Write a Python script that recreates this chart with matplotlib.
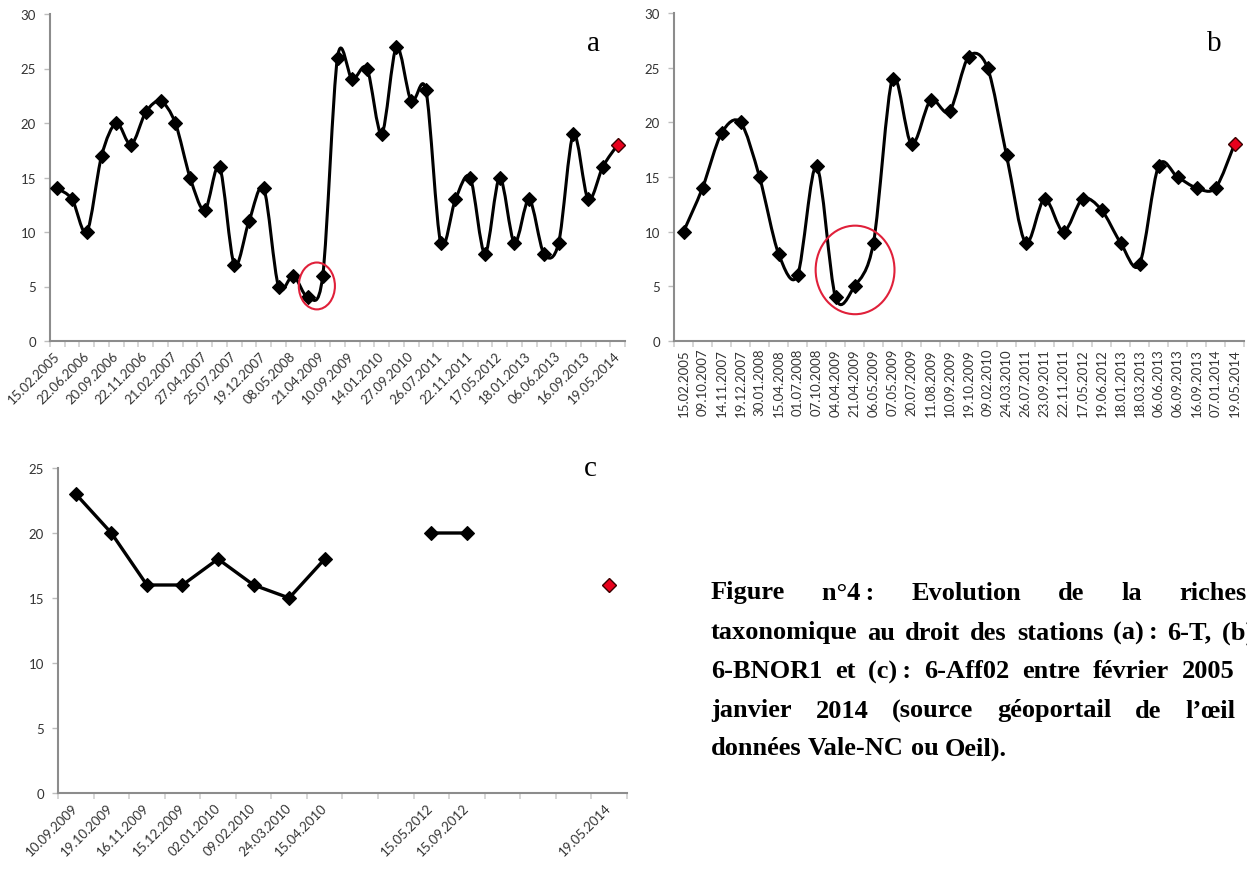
import numpy as np
import matplotlib
matplotlib.use("Agg")
import matplotlib.pyplot as plt
from matplotlib.path import Path
from matplotlib.patches import PathPatch, Ellipse

# ---------------- data ----------------
a_labels = ["15.02.2005", "", "22.06.2006", "", "20.09.2006", "", "22.11.2006", "",
            "21.02.2007", "", "27.04.2007", "", "25.07.2007", "", "19.12.2007", "",
            "08.05.2008", "", "21.04.2009", "", "10.09.2009", "", "14.01.2010", "",
            "27.09.2010", "", "26.07.2011", "", "22.11.2011", "", "17.05.2012", "",
            "18.01.2013", "", "06.06.2013", "", "16.09.2013", "", "19.05.2014"]
a_values = [14, 13, 10, 17, 20, 18, 21, 22, 20, 15, 12, 16, 7, 11, 14, 5, 6, 4, 6, 26,
            24, 25, 19, 27, 22, 23, 9, 13, 15, 8, 15, 9, 13, 8, 9, 19, 13, 16, 18]

b_labels = ["15.02.2005", "09.10.2007", "14.11.2007", "19.12.2007", "30.01.2008",
            "15.04.2008", "01.07.2008", "07.10.2008", "04.04.2009", "21.04.2009",
            "06.05.2009", "07.05.2009", "20.07.2009", "11.08.2009", "10.09.2009",
            "19.10.2009", "09.02.2010", "24.03.2010", "26.07.2011", "23.09.2011",
            "22.11.2011", "17.05.2012", "19.06.2012", "18.01.2013", "18.03.2013",
            "06.06.2013", "06.09.2013", "16.09.2013", "07.01.2014", "19.05.2014"]
b_values = [10, 14, 19, 20, 15, 8, 6, 16, 4, 5, 9, 24, 18, 22, 21, 26, 25, 17, 9, 13,
            10, 13, 12, 9, 7, 16, 15, 14, 14, 18]

c_labels = ["10.09.2009", "19.10.2009", "16.11.2009", "15.12.2009", "02.01.2010",
            "09.02.2010", "24.03.2010", "15.04.2010", "", "", "15.05.2012", "15.09.2012",
            "", "", "", "19.05.2014"]
c_values = [23, 20, 16, 16, 18, 16, 15, 18, np.nan, np.nan, 20, 20,
            np.nan, np.nan, np.nan, 16]

caption_lines = [
    ["Figure", "n°4\u202f:", "Evolution", "de", "la", "richesse"],
    ["taxonomique", "au", "droit", "des", "stations", "(a)\u202f:", "6-T,", "(b)\u202f:"],
    ["6-BNOR1", "et", "(c)\u202f:", "6-Aff02", "entre", "février", "2005", "et"],
    ["janvier", "2014", "(source", "géoportail", "de", "l’œil", ":"],
    ["données", "Vale-NC", "ou", "Oeil)."],
]
caption_justify = [True, True, True, True, False]

# ---------------- style ----------------
W, H = 1247, 879
fig = plt.figure(figsize=(W / 100, H / 100), dpi=100)
fig.patch.set_facecolor("white")

TICK_FONT = ["Lato", "DejaVu Sans"]
SPINE = "#8c8c8c"
TXT = "#333333"


def px_axes(l, r, t, b):
    return fig.add_axes([l / W, 1 - b / H, (r - l) / W, (b - t) / H])


def style_axes(ax, n, ymax, labels, rot, ha, va, rmode, pad):
    ax.set_xlim(-0.5, n - 0.5)
    ax.set_ylim(0, ymax)
    for s in ("top", "right"):
        ax.spines[s].set_visible(False)
    for s in ("left", "bottom"):
        ax.spines[s].set_color(SPINE)
        ax.spines[s].set_linewidth(1.5)
    ax.set_yticks(np.arange(0, ymax + 1, 5))
    ax.tick_params(axis="y", length=4, width=1, color="#bdbdbd", pad=6,
                   labelsize=9.5, labelcolor=TXT)
    for lab in ax.get_yticklabels():
        lab.set_fontfamily(TICK_FONT)
    ax.set_xticks(np.arange(n))
    ax.set_xticklabels(labels, rotation=rot, ha=ha, va=va,
                       rotation_mode=rmode, fontsize=9.5, color=TXT,
                       family=TICK_FONT)
    ax.tick_params(axis="x", which="major", length=0, pad=pad)
    ax.set_xticks(np.arange(n + 1) - 0.5, minor=True)
    ax.tick_params(axis="x", which="minor", length=4, width=1.2, color="#d0d0d0")


def smooth_line(ax, xs, ys, lw=2.2, k=1 / 6.5):
    """Excel-like smoothed line: Catmull-Rom style cubic Bezier through the points."""
    xs = np.asarray(xs, float)
    ys = np.asarray(ys, float)
    n = len(xs)
    verts = [(xs[0], ys[0])]
    codes = [Path.MOVETO]
    for i in range(n - 1):
        p0 = np.array([xs[max(i - 1, 0)], ys[max(i - 1, 0)]])
        p1 = np.array([xs[i], ys[i]])
        p2 = np.array([xs[i + 1], ys[i + 1]])
        p3 = np.array([xs[min(i + 2, n - 1)], ys[min(i + 2, n - 1)]])
        c1 = p1 + (p2 - p0) * k
        c2 = p2 - (p3 - p1) * k
        verts += [tuple(c1), tuple(c2), tuple(p2)]
        codes += [Path.CURVE4] * 3
    ax.add_patch(PathPatch(Path(verts, codes), facecolor="none",
                           edgecolor="black", lw=lw, capstyle="round",
                           joinstyle="round", zorder=2))


def markers(ax, xs, ys):
    ax.plot(xs[:-1], ys[:-1], linestyle="none", marker="D", ms=7.3,
            mfc="black", mec="black", mew=0.8, zorder=3)
    ax.plot(xs[-1:], ys[-1:], linestyle="none", marker="D", ms=7.0,
            mfc="#e8001c", mec="#3a0000", mew=1.0, zorder=4)


# ---------------- panel a ----------------
ax_a = px_axes(50, 625, 15, 342)
xa = np.arange(len(a_values))
style_axes(ax_a, len(a_values), 30, a_labels, 45, "right", "center", "anchor", 9)
smooth_line(ax_a, xa, a_values)
markers(ax_a, xa, np.asarray(a_values, float))
ax_a.add_patch(Ellipse((17.6, 5.05), 2.45, 4.3, facecolor="none",
                       edgecolor="#e0203a", lw=1.5, zorder=5))
ax_a.text(0.945, 0.91, "a", transform=ax_a.transAxes, fontsize=21,
          family="Liberation Serif", ha="center", va="center")

# ---------------- panel b ----------------
ax_b = px_axes(674, 1244, 14, 342)
xb = np.arange(len(b_values))
style_axes(ax_b, len(b_values), 30, b_labels, 90, "center", "top", "default", 5)
smooth_line(ax_b, xb, b_values)
markers(ax_b, xb, np.asarray(b_values, float))
ax_b.add_patch(Ellipse((9.03, 6.5), 4.15, 8.1, facecolor="none",
                       edgecolor="#e0203a", lw=1.5, zorder=5))
ax_b.text(0.947, 0.91, "b", transform=ax_b.transAxes, fontsize=21,
          family="Liberation Serif", ha="center", va="center")

# ---------------- panel c ----------------
ax_c = px_axes(58, 627, 469, 794)
xc = np.arange(len(c_values))
cv = np.asarray(c_values, float)
style_axes(ax_c, len(c_values), 25, c_labels, 45, "right", "center", "anchor", 9)
ax_c.plot(xc, cv, color="black", lw=2.4, zorder=2, solid_joinstyle="round")
markers(ax_c, xc, cv)
ax_c.text(0.935, 1.0, "c", transform=ax_c.transAxes, fontsize=21,
          family="Liberation Serif", ha="center", va="center")

# ---------------- caption (justified, runs past the right edge) ----------------
cap_y = [593, 633, 672, 711, 749]
X0, X1 = 711, 1268
CAP_KW = dict(fontsize=19, fontweight="bold",
              family=["Liberation Serif", "DejaVu Serif"], ha="left", va="center")
renderer = fig.canvas.get_renderer()
probe = fig.text(0, 0, "a a", **CAP_KW)
probe2 = fig.text(0, 0, "aa", **CAP_KW)
space_w = (probe.get_window_extent(renderer).width
           - probe2.get_window_extent(renderer).width)
probe.remove()
probe2.remove()
for words, y, just in zip(caption_lines, cap_y, caption_justify):
    objs = [fig.text(0, 1 - y / H, w, **CAP_KW) for w in words]
    widths = [o.get_window_extent(renderer).width for o in objs]
    if just and len(words) > 1:
        gap = (X1 - X0 - sum(widths)) / (len(words) - 1)
    else:
        gap = space_w
    x = X0
    for o, w in zip(objs, widths):
        o.set_x(x / W)
        x += w + gap

fig.savefig("out.png", dpi=100, facecolor="white")
